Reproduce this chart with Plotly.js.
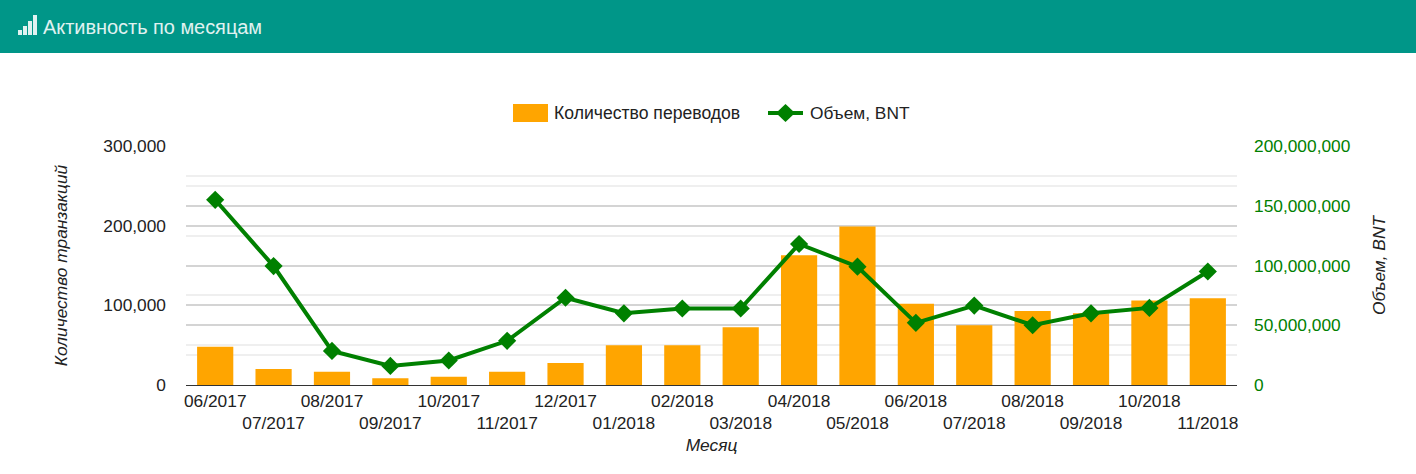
<!DOCTYPE html>
<html><head><meta charset="utf-8">
<script src="https://cdn.plot.ly/plotly-3.0.1.min.js"></script>
<style>
html,body{margin:0;padding:0;background:#fff;overflow:hidden}
#header{position:absolute;left:0;top:0;width:1416px;height:53px;background:#009688;color:#e0f2f1;font:20px "Liberation Sans",Arial,sans-serif;z-index:5}
#header .t{position:absolute;left:43px;top:15px;line-height:24px;letter-spacing:-0.05px}
#header i{position:absolute;background:#e0f2f1;display:block;bottom:18px}
#chart{position:absolute;left:0;top:0;width:1416px;height:474px}
</style></head><body>
<div id="header"><i style="left:18px;width:4px;height:5px"></i><i style="left:23px;width:4px;height:9px"></i><i style="left:28px;width:4px;height:14px"></i><i style="left:33px;width:4px;height:20px"></i><span class="t">Активность по месяцам</span></div>
<div id="chart"></div>
<script>
const months = ["06/2017","07/2017","08/2017","09/2017","10/2017","11/2017","12/2017","01/2018","02/2018","03/2018","04/2018","05/2018","06/2018","07/2018","08/2018","09/2018","10/2018","11/2018"];
const transfers = [48000,20000,16500,8500,10500,16500,27500,50000,50000,72500,163000,199000,102000,75000,93000,90000,106000,109000];
const volume = [155000000,99500000,28500000,16000000,20500000,37000000,73000000,60000000,64000000,64000000,118000000,99000000,52000000,66500000,50000000,60000000,64500000,95000000];
const barName = "Количество переводов";
const lineName = "Объем, BNT";
const FONT = '"Liberation Sans",Arial,sans-serif';
const SIZE = 17.33;
const slots = months.map((_, i) => i);
const tickText = months.map((m, i) => i % 2 ? "<br>" + m : m);

const traces = [
  {type:"bar", x:slots, y:transfers, name:barName, marker:{color:"#ffa500"}, yaxis:"y", hoverinfo:"x+y"},
  {type:"scatter", mode:"lines+markers", x:slots, y:volume, name:lineName, yaxis:"y2",
   line:{color:"#008000", width:4}, marker:{symbol:"diamond", size:14, color:"#008000"}}
];
const layout = {
  width:1416, height:474, showlegend:false, bargap:0.38,
  margin:{l:186, r:179, t:146, b:89, pad:0},
  paper_bgcolor:"#fff", plot_bgcolor:"#fff",
  font:{family:FONT, size:SIZE, color:"#222"},
  xaxis:{range:[-0.5,17.5], tickmode:"array", tickvals:slots, ticktext:tickText, tickangle:0, ticks:"",
    showgrid:false, zeroline:false, showline:true, linecolor:"#333", linewidth:1,
    tickfont:{size:SIZE,color:"#222"},
    title:{text:"Месяц", font:{size:SIZE,style:"italic",color:"#222"}, standoff:6}},
  yaxis:{range:[0,300000], tick0:0, dtick:100000, tickformat:",d", ticks:"", ticklabelstandoff:19,
    gridcolor:"#d4d4d4", gridwidth:2, zeroline:false, showline:false,
    minor:{dtick:50000, showgrid:true, gridcolor:"#efefef", gridwidth:2},
    tickfont:{size:SIZE,color:"#222"},
    title:{text:"Количество транзакций", font:{size:SIZE,style:"italic",color:"#222"}, standoff:31}},
  yaxis2:{overlaying:"y", side:"right", range:[0,200000000], tick0:0, dtick:50000000, tickformat:",d", ticks:"", ticklabelstandoff:16,
    gridcolor:"#d4d4d4", gridwidth:2, showgrid:true, zeroline:false, showline:false,
    minor:{dtick:25000000, showgrid:true, gridcolor:"#efefef", gridwidth:2},
    tickfont:{size:SIZE,color:"#008000"},
    title:{text:lineName, font:{size:SIZE,style:"italic",color:"#222"}, standoff:23}},
  shapes:[
    {type:"rect", xref:"paper", yref:"paper", xsizemode:"pixel", ysizemode:"pixel", xanchor:0, yanchor:1, x0:327, x1:362, y0:24, y1:42, fillcolor:"#ffa500", line:{width:0}},
    {type:"line", xref:"paper", yref:"paper", xsizemode:"pixel", ysizemode:"pixel", xanchor:0, yanchor:1, x0:582, x1:617, y0:33, y1:33, line:{color:"#008000",width:4}},
    {type:"path", xref:"paper", yref:"paper", xsizemode:"pixel", ysizemode:"pixel", xanchor:0, yanchor:1, path:"M 590 33 L 599.5 24 L 609 33 L 599.5 42 Z", fillcolor:"#008000", line:{width:0}}
  ],
  annotations:[
    {xref:"paper", yref:"paper", x:0, y:1, xanchor:"left", yanchor:"middle", xshift:366, yshift:33, text:barName, showarrow:false, font:{size:17.6,color:"#222"}},
    {xref:"paper", yref:"paper", x:0, y:1, xanchor:"left", yanchor:"middle", xshift:622, yshift:33, text:lineName, showarrow:false, font:{size:17.33,color:"#222"}}
  ]
};
Plotly.newPlot("chart", traces, layout, {displayModeBar:false, responsive:false});
</script></body></html>
